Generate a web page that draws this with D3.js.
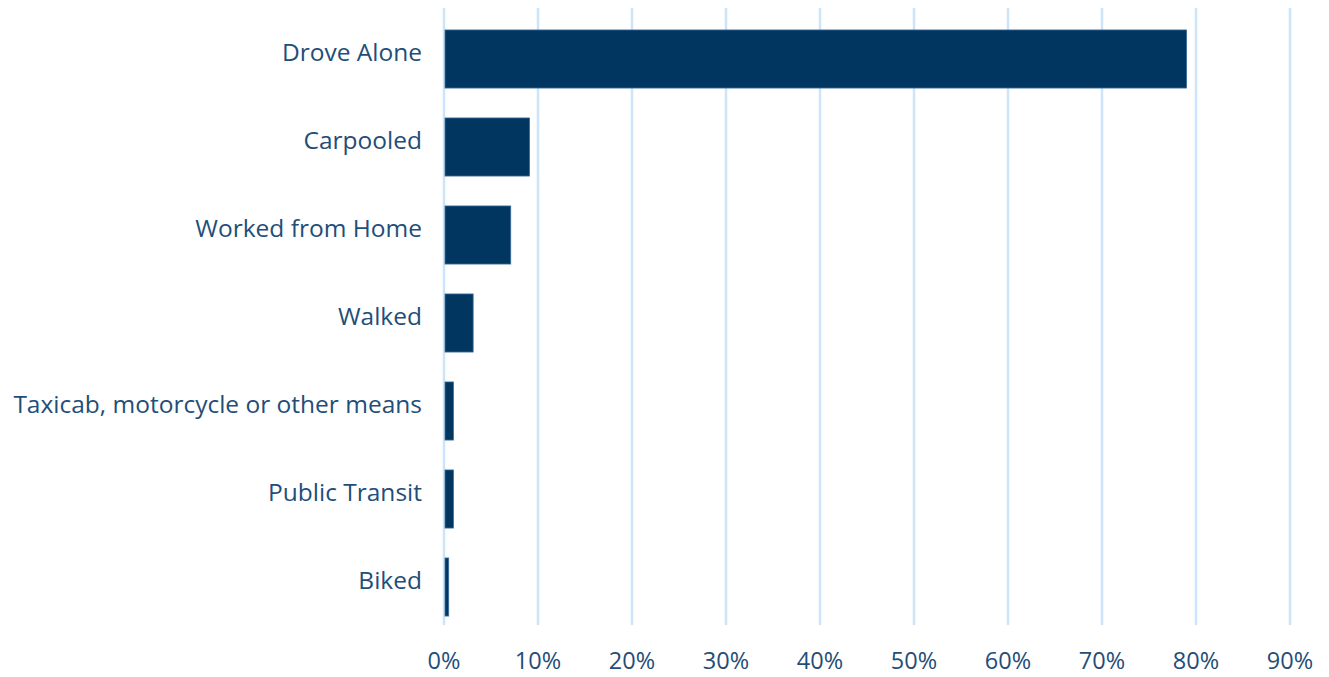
<!DOCTYPE html>
<html>
<head>
<meta charset="utf-8">
<script src="https://cdn.jsdelivr.net/npm/d3@7"></script>
<style>
  body { margin: 0; background: #fff; }
  text { font-family: "Open Sans", "Liberation Sans", sans-serif; fill: #1f4e79; }
</style>
</head>
<body>
<svg id="chart"></svg>
<script>

var modes = ["Drove Alone", "Carpooled", "Worked from Home", "Walked",
             "Taxicab, motorcycle or other means", "Public Transit", "Biked"];
var shares = [79.0, 9.1, 7.1, 3.1, 1.0, 1.0, 0.5];
var ticks = [0, 10, 20, 30, 40, 50, 60, 70, 80, 90];

function draw_bars(){

  width = 1329;
  height = 677;
  left = 444;
  right = 1290;
  top_ = 8;
  bottom = 624;
  barShift = 7;   // bars sit a little below the label centres

  svg = d3.select('#chart').attr('width', width).attr('height', height);

  x = d3.scaleLinear().domain([0, 90]).range([left, right]);
  y = d3.scaleBand().domain(modes).range([top_, bottom]).paddingInner(0.34).paddingOuter(0.17);

  // gridlines
  svg.append('g')
     .selectAll('line')
     .data(ticks).enter()
     .append('line')
     .attr('x1', function(d){return x(d);})
     .attr('x2', function(d){return x(d);})
     .attr('y1', top_)
     .attr('y2', bottom + 1)
     .attr('stroke', '#cce5fb')
     .attr('stroke-width', 2.5);

  svg.append('g')
     .selectAll('rect')
     .data(modes).enter()
     .append('rect')
     .attr('x', x(0) + 1)
     .attr('y', function(d){return y(d) + barShift;})
     .attr('width', function(d, i){return x(shares[i]) - x(0) - 1;})
     .attr('height', y.bandwidth())
     .attr('fill', '#013661')
     .attr('stroke', '#3d6c99')
     .attr('stroke-width', 0.8);

  // category labels
  svg.append('g')
     .selectAll('text')
     .data(modes).enter()
     .append('text')
     .attr('x', 422)
     .attr('y', function(d){return y(d) + y.bandwidth()/2;})
     .attr('dy', '0.35em')
     .attr('text-anchor', 'end')
     .attr('font-size', 24.5)
     .text(function(d){return d;});

  // x axis labels
  svg.append('g')
     .selectAll('text')
     .data(ticks).enter()
     .append('text')
     .attr('x', function(d){return x(d);})
     .attr('y', 669)
     .attr('text-anchor', 'middle')
     .attr('font-size', 23.5)
     .text(function(d){return d + '%';});
}

draw_bars();
</script>
</body>
</html>
